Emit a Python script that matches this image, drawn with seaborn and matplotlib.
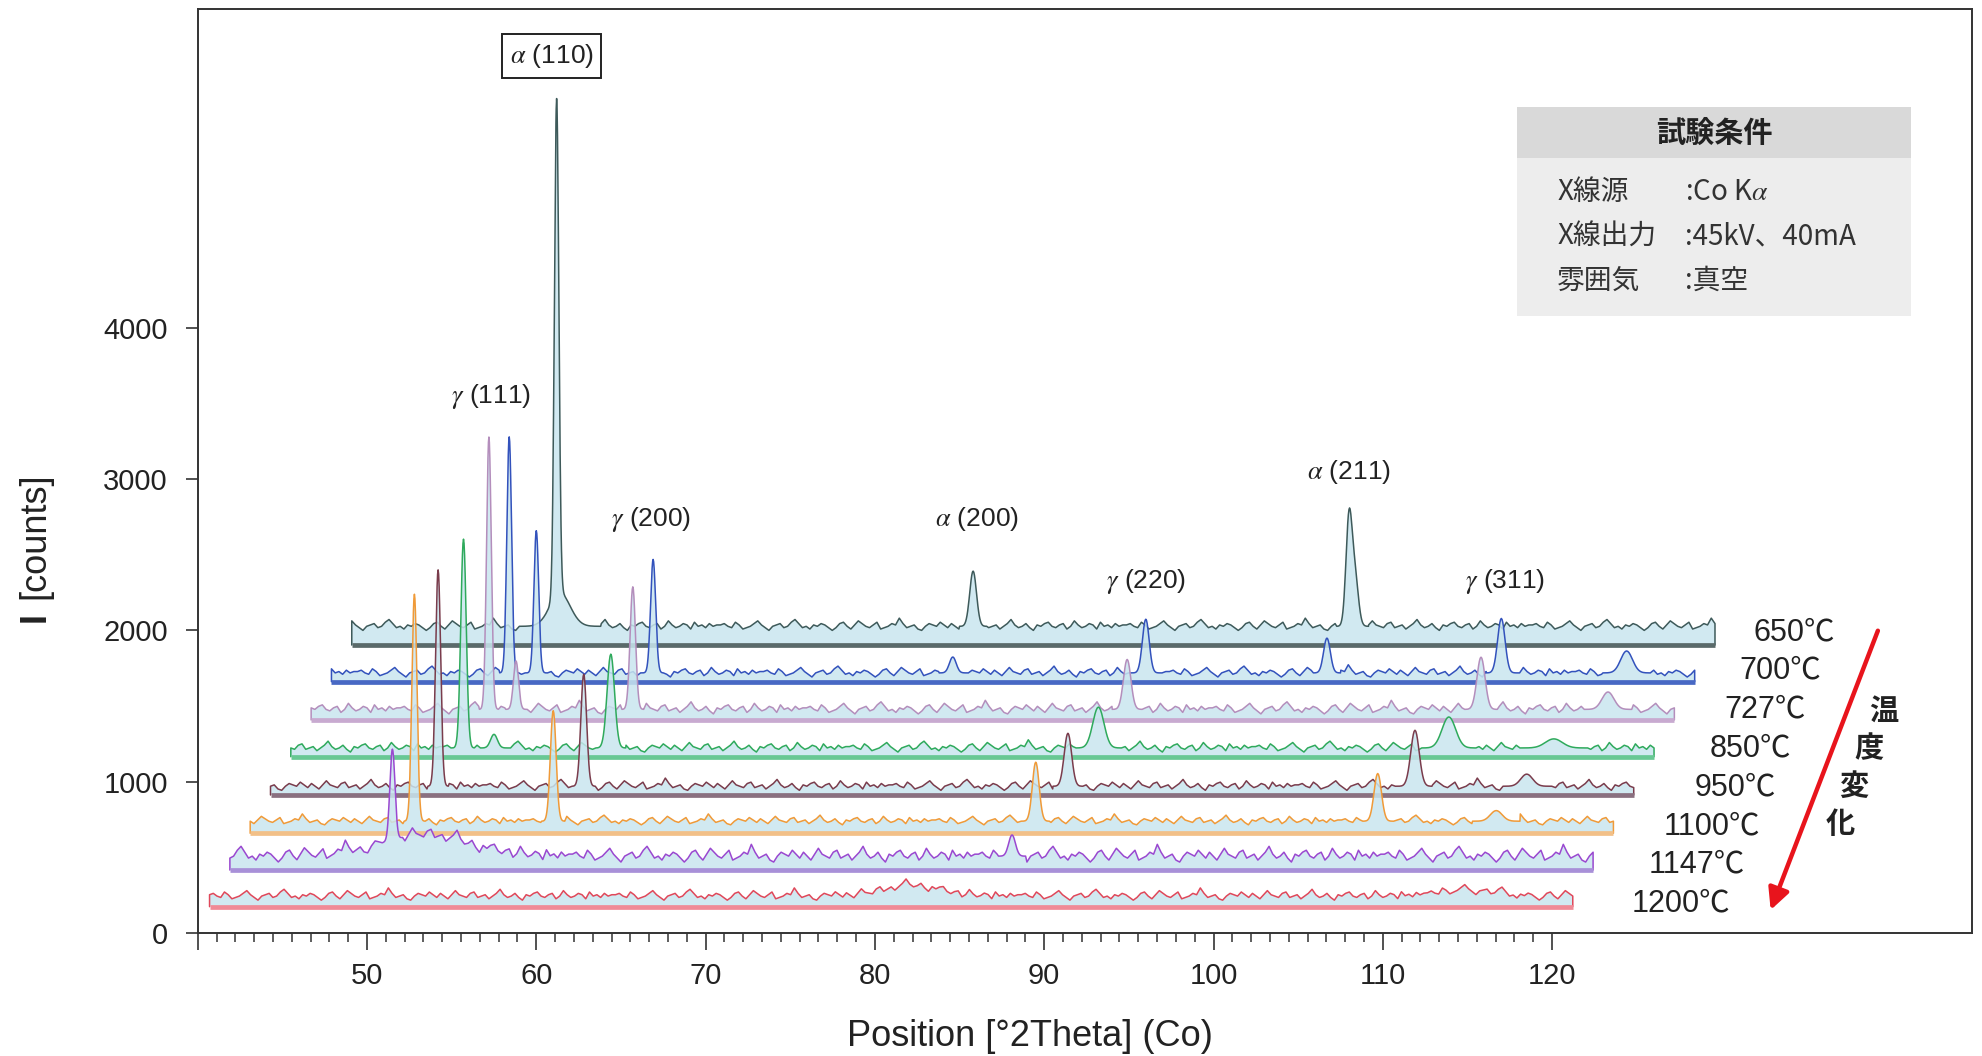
import numpy as np
import matplotlib
matplotlib.use("Agg")
import matplotlib.pyplot as plt
import seaborn as sns
from matplotlib.patches import Rectangle
from matplotlib.ticker import FixedLocator

# ---------------- data ----------------
temps = ["1200℃", "1147℃", "1100℃", "950℃", "850℃", "727℃", "700℃", "650℃"]

two_theta_start = 40.0
two_theta_end = 120.5
two_theta_step = 0.22

# stacking of the traces (bottom of each trace band, counts) and flat signal level above it
base_counts = [174, 416, 659, 912, 1165, 1408, 1661, 1903]
level_counts = [70, 92, 80, 58, 58, 70, 58, 124]
noise_scale = [9, 13, 8, 9, 9, 10, 9, 9]

# peaks of each pattern: position [deg 2theta], intensity above background [counts], width (sigma) [deg]
peak_pos_1200 = [81.5, 114.2]
peak_int_1200 = [70, 40]
peak_wid_1200 = [1.6, 1.5]

peak_pos_1147 = [49.6, 51.5, 86.2]
peak_int_1147 = [600, 140, 140]
peak_wid_1147 = [0.15, 2.6, 0.2]

peak_pos_1100 = [49.7, 57.9, 86.4, 106.6, 113.6]
peak_int_1100 = [1500, 730, 390, 315, 70]
peak_wid_1100 = [0.15, 0.17, 0.2, 0.22, 0.35]

peak_pos_950 = [49.9, 58.5, 87.1, 107.6, 114.2]
peak_int_950 = [1430, 740, 350, 370, 80]
peak_wid_950 = [0.15, 0.17, 0.22, 0.25, 0.35]

peak_pos_850 = [50.2, 52.0, 58.9, 87.7, 108.4, 114.6]
peak_int_850 = [1380, 90, 620, 270, 205, 60]
peak_wid_850 = [0.16, 0.2, 0.22, 0.33, 0.4, 0.5]

peak_pos_727 = [50.5, 52.1, 59.0, 88.2, 109.1, 116.6]
peak_int_727 = [1800, 320, 810, 330, 345, 115]
peak_wid_727 = [0.14, 0.15, 0.16, 0.22, 0.24, 0.35]

peak_pos_700 = [50.5, 52.1, 59.0, 76.7, 88.1, 98.8, 109.1, 116.5]
peak_int_700 = [1560, 940, 750, 105, 355, 230, 360, 145]
peak_wid_700 = [0.14, 0.14, 0.15, 0.2, 0.2, 0.2, 0.22, 0.35]

peak_pos_650 = [52.1, 52.3, 76.7, 98.9, 99.25]
peak_int_650 = [3280, 220, 365, 700, 330]
peak_wid_650 = [0.13, 0.6, 0.2, 0.18, 0.2]

# background counting noise (relative units)
jitter = [1, 2, 0, -1, 3, 1, -2, -1, 0, 2, 4, 1, -1, -3, 0, 1, 2, -1, 0, 3,
          5, 2, -1, 0, -2, 1, 0, 2, 1, -1, -3, -1, 2, 3, 0, -2, 1, 4, 2, 0,
          -1, 1, 3, -2, -1, 0, 2, 1, 6, 2, -1, 0, 1, -2, -3, 0, 2, 1, 0, 3,
          1, -1, 2, 0, -2, 1, 4, 1, 0, -1, 2, 3, -1, 0, 1, -2, 0, 2, 5, 1,
          -1, 0, 2, -1, -3, 1, 0, 2, 3, 0, -1, 1, 2, -2, 0, 4, 1, -1, 0, 2,
          1, -2, 3, 0, 1, -1, 2, 0, 1]

peak_labels = [r"$\gamma$ (111)", r"$\gamma$ (200)", r"$\alpha$ (200)",
               r"$\gamma$ (220)", r"$\alpha$ (211)", r"$\gamma$ (311)"]
peak_label_x = [57.3, 66.8, 86.0, 96.0, 108.0, 117.2]
peak_label_y = [3543, 2733, 2733, 2324, 3050, 2324]

peaks = [
    (peak_pos_1200, peak_int_1200, peak_wid_1200),
    (peak_pos_1147, peak_int_1147, peak_wid_1147),
    (peak_pos_1100, peak_int_1100, peak_wid_1100),
    (peak_pos_950, peak_int_950, peak_wid_950),
    (peak_pos_850, peak_int_850, peak_wid_850),
    (peak_pos_727, peak_int_727, peak_wid_727),
    (peak_pos_700, peak_int_700, peak_wid_700),
    (peak_pos_650, peak_int_650, peak_wid_650),
]

# ---------------- style ----------------
shift_deg = [0.7, 1.9, 3.1, 4.3, 5.5, 6.7, 7.9, 9.1]
line_colors = ["#e0485a", "#9a48d0", "#f09a38", "#7a3c4c", "#2faa5c", "#b48ebc", "#3352bc", "#3e5a5a"]
edge_colors = ["#f08a96", "#a890d8", "#f2c088", "#8a7080", "#68c894", "#c8aad0", "#4868c4", "#5a6a6a"]
fill_color = "#c9e6ef"
label_right_x = [130.5, 131.4, 132.3, 133.2, 134.1, 135.0, 135.9, 136.7]
label_y = [194, 450, 707, 963, 1220, 1476, 1733, 1989]

sns.set_theme(style="ticks")
plt.rcParams["font.family"] = ["Liberation Sans", "Noto Sans CJK JP", "DejaVu Sans"]
plt.rcParams["mathtext.fontset"] = "stix"
cjk = ["Noto Sans CJK JP", "DejaVu Sans"]

fig = plt.figure(figsize=(19.82, 10.56), dpi=100)
ax = fig.add_axes([0.09975, 0.11648, 0.8952, 0.875])

# ---------------- traces ----------------
n_coarse = int(round((two_theta_end - two_theta_start) / two_theta_step)) + 1
coarse = two_theta_start + two_theta_step * np.arange(n_coarse)

for k in range(len(temps)):
    pos, inten, wid = peaks[k]
    keep = np.ones(n_coarse, dtype=bool)
    fine = []
    for c, s in zip(pos, wid):
        if s < 0.8:
            keep &= np.abs(coarse - c) > 4 * s
            fine.append(np.linspace(c - 4 * s, c + 4 * s, 41))
    idx = np.arange(n_coarse)[keep]
    xs = np.concatenate([coarse[keep]] + fine)
    noise = np.concatenate([np.array([jitter[(i + 17 * k) % len(jitter)] for i in idx], float)]
                           + [np.zeros(len(f)) for f in fine])
    order = np.argsort(xs)
    xs, noise = xs[order], noise[order]
    signal = np.zeros_like(xs)
    for c, h, s in zip(pos, inten, wid):
        signal += h * np.exp(-0.5 * ((xs - c) / s) ** 2)
    y = base_counts[k] + level_counts[k] + noise_scale[k] * noise + signal
    xd = xs + shift_deg[k]

    px = np.concatenate([[xd[0]], xd, [xd[-1]]])
    py = np.concatenate([[base_counts[k]], y, [base_counts[k]]])
    z = 20 - 2 * k
    ax.fill(px, py, color=fill_color, alpha=0.85, lw=0, zorder=z)
    sns.lineplot(x=px, y=py, sort=False, estimator=None, color=line_colors[k],
                 lw=1.1, ax=ax, zorder=z + 0.5)
    ax.plot([xd[0], xd[-1]], [base_counts[k], base_counts[k]], color=edge_colors[k],
            lw=3.4, solid_capstyle="butt", zorder=z + 0.6)
    ax.text(label_right_x[k], label_y[k], temps[k], ha="right", va="center",
            fontsize=22, color="#222222", zorder=30)

# ---------------- annotations ----------------
ax.text(60.9, 5799, r"$\alpha$ (110)", ha="center", va="center", fontsize=19,
        color="#222222", zorder=30,
        bbox=dict(boxstyle="square,pad=0.3", fc="white", ec="#222222", lw=1.4))
for lab, lx, ly in zip(peak_labels, peak_label_x, peak_label_y):
    ax.text(lx, ly, lab, ha="center", va="center", fontsize=19, color="#222222", zorder=30)

ax.annotate("", xy=(132.85, 135), xytext=(139.3, 2015),
            arrowprops=dict(arrowstyle="-|>", color="#e8141c", lw=3.2, mutation_scale=32),
            zorder=30)
for ch, cx, cy in zip(["温", "度", "変", "化"], [139.6, 138.7, 137.8, 137.0], [1471, 1221, 970, 720]):
    ax.text(cx, cy, ch, ha="center", va="center", fontsize=21, family=cjk,
            fontweight="bold", color="#222222", zorder=30)

# test-condition table
ax.add_patch(Rectangle((0.7434, 0.6677), 0.2223, 0.1710, transform=ax.transAxes,
                       fc="#ededed", ec="none", zorder=25))
ax.add_patch(Rectangle((0.7434, 0.8387), 0.2223, 0.0548, transform=ax.transAxes,
                       fc="#d9d9d9", ec="none", zorder=25))
ax.text(0.8546, 0.866, "試験条件", transform=ax.transAxes, ha="center", va="center",
        fontsize=21, family=cjk, fontweight="bold", color="#222222", zorder=26)
rows_key = ["X線源", "X線出力", "雰囲気"]
rows_val = [r":Co K$\alpha$", ":45kV、40mA", ":真空"]
rows_y = [0.8019, 0.7539, 0.7061]
for key, val, ry in zip(rows_key, rows_val, rows_y):
    ax.text(0.7662, ry, key, transform=ax.transAxes, ha="left", va="center",
            fontsize=20, family=cjk, color="#333333", zorder=26)
    ax.text(0.8382, ry, val, transform=ax.transAxes, ha="left", va="center",
            fontsize=20, family=cjk, color="#333333", zorder=26)

# ---------------- axes ----------------
ax.set_xlim(40, 144.8)
ax.set_ylim(0, 6107)
ax.set_xticks(np.arange(40, 121, 10))
ax.set_xticklabels([""] + [str(v) for v in range(50, 121, 10)])
ax.xaxis.set_minor_locator(FixedLocator([m + j * 10 / 9 for m in range(40, 120, 10) for j in range(1, 9)]))
ax.set_yticks([0, 1000, 2000, 3000, 4000])
ax.tick_params(axis="x", which="major", length=12, width=1.2, direction="out",
               labelsize=21, pad=9, color="#333333", labelcolor="#222222")
ax.tick_params(axis="x", which="minor", length=6.5, width=1.1, direction="out", color="#333333")
ax.tick_params(axis="y", which="major", length=8.5, width=1.2, direction="out",
               labelsize=21, pad=13, color="#333333", labelcolor="#222222")
for sp in ax.spines.values():
    sp.set_color("#333333")
    sp.set_linewidth(1.4)
ax.set_xlabel("")
ax.set_ylabel("")

fig.text(0.5197, 0.0185, "Position [°2Theta] (Co)", ha="center", va="center",
         fontsize=26, color="#222222")
fig.text(0.0177, 0.4157, "I", ha="center", va="center", rotation=90,
         fontsize=26, fontweight="bold", color="#222222")
fig.text(0.0177, 0.4924, "[counts]", ha="center", va="center", rotation=90,
         fontsize=26, color="#222222")

fig.savefig("out.png", dpi=100)
